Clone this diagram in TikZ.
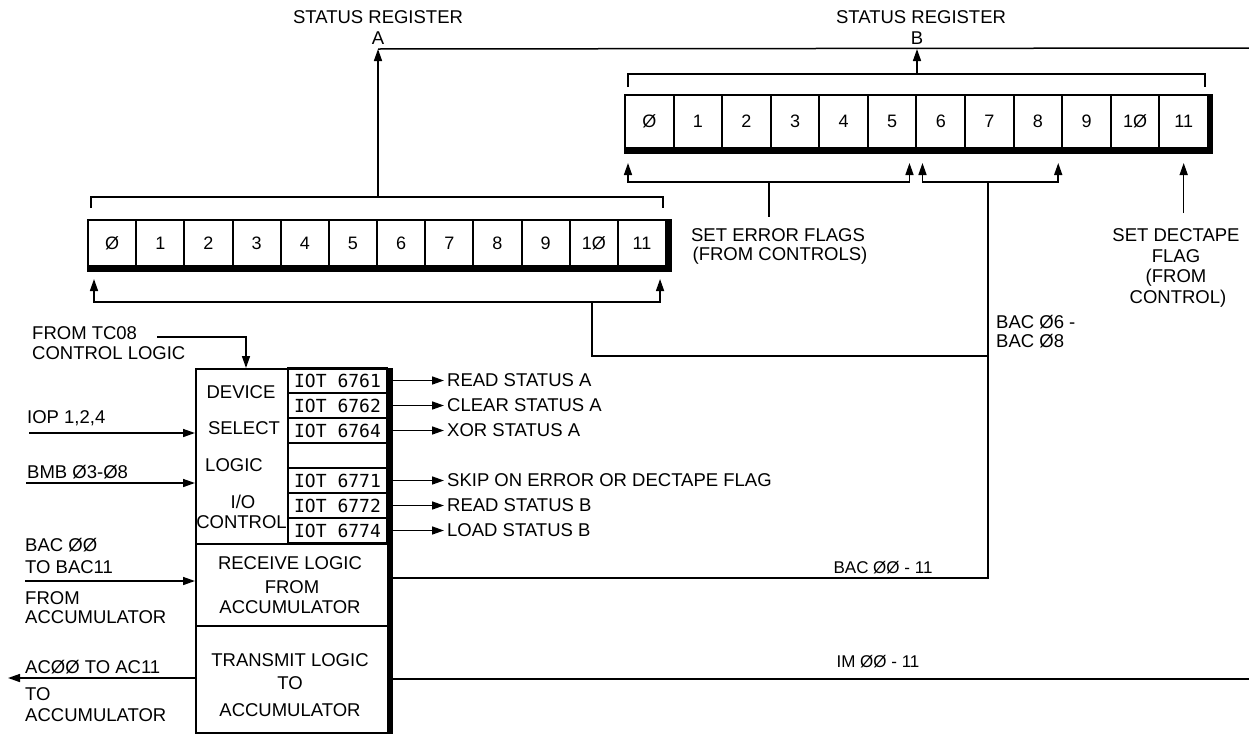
\documentclass[tikz,border=0pt]{standalone}
\usepackage{fontspec}
\setmainfont{Liberation Sans}
\newfontfamily\monofont{DejaVu Sans Mono}
\usetikzlibrary{arrows.meta,calc}
\begin{document}
\begin{tikzpicture}[x=1pt,y=-1pt,
  txt/.style={inner sep=0pt, font=\fontsize{18.5}{21}\selectfont},
  smalltxt/.style={inner sep=0pt, font=\fontsize{17}{19}\selectfont},
  lbl/.style={txt, anchor=west},
  wire/.style={line width=1.5pt},
  arr/.style={wire, -{Triangle[length=12pt,width=8pt]}},
  regA/.style={draw, line width=2pt, minimum width=48.17pt, minimum height=46pt, inner sep=0pt, font=\fontsize{18}{20}\selectfont},
  regB/.style={regA, minimum width=48.58pt, minimum height=53pt},
  iot/.style={draw, line width=1.8pt, minimum width=99pt, minimum height=25pt, inner sep=0pt, font=\monofont\fontsize{18}{20}\selectfont},
  blk/.style={draw, line width=2pt, anchor=north west, inner sep=0pt},
  heavy/.style={line width=5pt},
]
\useasboundingbox (0,0) rectangle (1249,734);
\fill[white] (0,0) rectangle (1249,734);

% ---------- register A ----------
\foreach \i/\t in {0/Ø,1/1,2/2,3/3,4/4,5/5,6/6,7/7,8/8,9/9,10/1Ø,11/11}
  \node[regA] (a\i) at ({88+48.17*(\i+0.5)},243) {\t};
\draw[heavy] ($(a0.south west)+(0,2)$) -- ($(a11.south east)+(2,2)$) -- ($(a11.north east)+(2,0)$);

% ---------- register B ----------
\foreach \i/\t in {0/Ø,1/1,2/2,3/3,4/4,5/5,6/6,7/7,8/8,9/9,10/1Ø,11/11}
  \node[regB] (b\i) at ({625+48.58*(\i+0.5)},121.5) {\t};
\draw[heavy] ($(b0.south west)+(0,2)$) -- ($(b11.south east)+(2,2)$) -- ($(b11.north east)+(2,0)$);

% ---------- titles and bus ----------
\node[txt] (srA) at (378,17) {STATUS REGISTER};
\node[txt] (srAl) at (378,38) {A};
\node[txt] (srB) at (921,17) {STATUS REGISTER};
\node[txt] (srBl) at (917,38) {B};

\coordinate (busA) at (378,49);
\coordinate (busB) at (917,49);
\coordinate (busR) at (1249,48);
\draw[wire] (busA) -- (busR);

% top bracket A
\coordinate (brAL) at (91,197);
\coordinate (brAR) at (663,197);
\draw[wire] ($(brAL)+(0,11)$) -- (brAL) -- (brAR) -- ($(brAR)+(0,11)$);
\draw[arr] (brAL -| busA) -- (busA);

% top bracket B
\coordinate (brBL) at (628,74);
\coordinate (brBR) at (1205,74);
\draw[wire] ($(brBL)+(0,13)$) -- (brBL) -- (brBR) -- ($(brBR)+(0,13)$);
\draw[arr] (brBL -| busB) -- (busB);

% bottom bracket A
\coordinate (jA) at (592,302);
\coordinate (jA2) at (592,356);
\coordinate (bacV) at (988,356);
\draw[arr] (jA) -| ($(a0.south west)+(7,12)$);
\draw[arr] (jA) -| ($(a11.south east)+(-7,12)$);
\draw[wire] (jA) -- (jA2) -- (bacV);

% bottom brackets B
\coordinate (jE) at (769,182);
\coordinate (jB) at (988,182);
\coordinate (errTop) at (769,217);
\coordinate (bacB) at (988,578);
\draw[arr] (jE) -| ($(b0.south west)+(4,14)$);
\draw[arr] (jE) -| ($(b5.south east)+(-8,14)$);
\draw[arr] (jB) -| ($(b6.south west)+(7,14)$);
\draw[arr] (jB) -| ($(b8.south east)+(-5,14)$);
\draw[wire] (jE) -- (errTop);
\coordinate (decTop) at ($(b11.south)+(0,64)$);
\draw[arr] (decTop) -- ($(b11.south)+(0,14)$);

% labels near registers
\node[txt] (err1) at (778,235) {SET ERROR FLAGS};
\node[txt] (err2) at (780,256) {(FROM CONTROLS)};
\node[txt] (dec1) at (1176,235) {SET DECTAPE};
\node[txt] (dec2) at (1176,256) {FLAG};
\node[txt] (dec3) at (1176,278) {(FROM};
\node[txt] (dec4) at (1178,299) {CONTROL)};
\node[lbl] (bac6) at (996,322) {BAC Ø6 -};
\node[lbl] (bac8) at (996,341) {BAC Ø8};

% ---------- device select block ----------
\node[blk, minimum width=192pt, minimum height=175pt] (dev) at (195,368) {};
\foreach \k/\t in {1/6761,2/6762,3/6764,5/6771,6/6772,7/6774}
  \node[iot] (i\k) at (337.5,{355.5+25*\k}) {IOT \t};
\node[iot] (i4) at (337.5,455.5) {};

\node[txt] (dv1) at (241,392) {DEVICE};
\node[txt] (dv2) at (244,428) {SELECT};
\node[txt] (dv3) at (234,465) {LOGIC};
\node[txt] (dv4) at (243,502) {I/O};
\node[txt] (dv5) at (241.5,522) {CONTROL};

\node[blk, minimum width=192pt, minimum height=82pt] (rcv) at (195,543) {};
\node[blk, minimum width=192pt, minimum height=107pt] (xmt) at (195,625) {};
\node[txt] (r1) at (290,563) {RECEIVE LOGIC};
\node[txt] (r2) at (292,587) {FROM};
\node[txt] (r3) at (290,607) {ACCUMULATOR};
\node[txt] (t1) at (290,660) {TRANSMIT LOGIC};
\node[txt] (t2) at (290,683) {TO};
\node[txt] (t3) at (290,710) {ACCUMULATOR};
\draw[heavy] ($(dev.north east)+(1.5,0)$) -- ($(xmt.south east)+(1.5,0)$);

% outputs of IOT decoder
\foreach \k/\t in {1/READ STATUS A,2/CLEAR STATUS A,3/XOR STATUS A,5/SKIP ON ERROR OR DECTAPE FLAG,6/READ STATUS B,7/LOAD STATUS B}{
  \node[lbl] (o\k) at (447,{355.5+25*\k}) {\t};
  \draw[arr, shorten >=3pt] ($(i\k.east)+(3,0)$) -- (o\k.west);
}

% ---------- inputs ----------
\node[lbl] (tc1) at (32,333) {FROM TC08};
\node[lbl] (tc2) at (32,353) {CONTROL LOGIC};
\coordinate (tcS) at (157,337);
\draw[arr] (tcS) -| ($(dev.north west)+(51,0)$);

\node[lbl] (iop) at (27,418) {IOP 1,2,4};
\coordinate (iopS) at (29,433);
\draw[arr] (iopS) -- (iopS -| dev.west);

\node[lbl] (bmb) at (27,472) {BMB Ø3-Ø8};
\coordinate (bmbS) at (26,483);
\draw[arr] (bmbS) -- (bmbS -| dev.west);

\node[lbl] (ba1) at (25,545) {BAC ØØ};
\node[lbl] (ba2) at (25,567) {TO BAC11};
\node[lbl] (ba3) at (25,598) {FROM};
\node[lbl] (ba4) at (25,617) {ACCUMULATOR};
\coordinate (bacS) at (25,581);
\draw[arr] (bacS) -- (bacS -| rcv.west);

\node[lbl] (ac1) at (25,667) {ACØØ TO AC11};
\node[lbl] (ac2) at (25,694) {TO};
\node[lbl] (ac3) at (25,715) {ACCUMULATOR};
\coordinate (acE) at (8,678);
\draw[arr] (acE -| xmt.west) -- (acE);

% ---------- right-hand buses ----------
\draw[wire] (jB) -- (bacB) -- (bacB -| rcv.east);
\node[smalltxt] (bacl) at (883,568) {BAC ØØ - 11};
\coordinate (imE) at (1249,679);
\draw[wire] (imE -| xmt.east) -- (imE);
\node[smalltxt] (iml) at (878,662) {IM ØØ - 11};
\end{tikzpicture}
\end{document}
